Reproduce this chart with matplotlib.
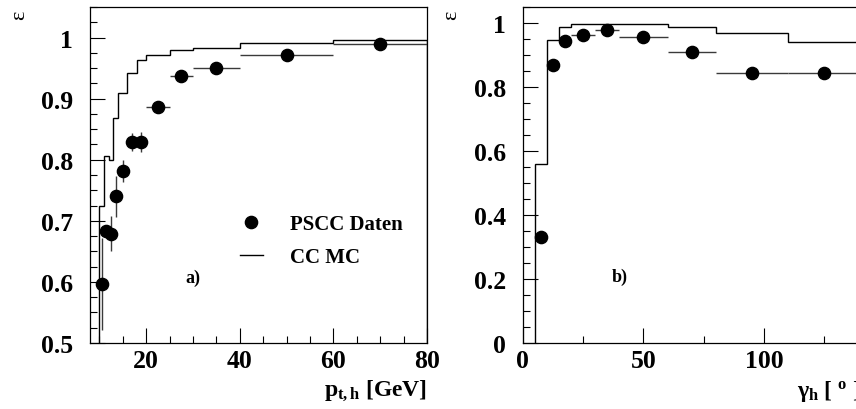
import numpy as np
import matplotlib
matplotlib.use("Agg")
import matplotlib.pyplot as plt
from matplotlib.ticker import MultipleLocator, FuncFormatter
from matplotlib.lines import Line2D

# ---------------- data: panel a (p_t,h) ----------------
pt_edges = [10, 11, 12, 13, 14, 16, 18, 20, 25, 30, 40, 60, 80]
pt_data_eff = [0.597, 0.683, 0.679, 0.740, 0.781, 0.829, 0.829, 0.886, 0.937, 0.950, 0.972, 0.989]
pt_data_err = [0.075, 0.010, 0.029, 0.033, 0.018, 0.015, 0.017, 0.006, 0.005, 0.004, 0.004, 0.003]
pt_mc_eff = [0.724, 0.806, 0.799, 0.869, 0.909, 0.942, 0.964, 0.971, 0.979, 0.983, 0.991, 0.996]

# ---------------- data: panel b (gamma_h) ----------------
gam_edges = [5, 10, 15, 20, 30, 40, 60, 80, 110, 140]
gam_data_eff = [0.332, 0.868, 0.945, 0.964, 0.977, 0.957, 0.910, 0.843, 0.843]
gam_data_err = [0.010, 0.008, 0.005, 0.004, 0.003, 0.004, 0.005, 0.006, 0.006]
gam_mc_eff = [0.559, 0.948, 0.987, 0.996, 0.998, 0.998, 0.987, 0.970, 0.942]

legend_labels = ["PSCC Daten", "CC MC"]
panel_tags = ["a)", "b)"]

plt.rcParams["font.family"] = ["Liberation Serif", "DejaVu Serif"]
plt.rcParams["font.weight"] = "bold"
plt.rcParams["axes.labelweight"] = "bold"
plt.rcParams["mathtext.fontset"] = "custom"
plt.rcParams["mathtext.rm"] = "Liberation Serif:bold"
plt.rcParams["mathtext.bf"] = "Liberation Serif:bold"
plt.rcParams["mathtext.it"] = "Liberation Serif:italic:bold"

fig = plt.figure(figsize=(8.56, 4.10), dpi=100)
H = 410.0
W = 856.0
ax_a = fig.add_axes([90 / W, (H - 344) / H, 337 / W, 336 / H])
ax_b = fig.add_axes([522.7 / W, (H - 344) / H, 338 / W, 336 / H])

fmt = FuncFormatter(lambda v, p: "%g" % round(v, 3))


def draw(ax, edges, data, err, mc, xlim, ylim, xmaj, xmin, ymaj, ymin):
    edges = np.asarray(edges, float)
    centers = 0.5 * (edges[:-1] + edges[1:])
    halfw = 0.5 * (edges[1:] - edges[:-1])
    ax.stairs(mc, edges, baseline=0, color="black", lw=1.0, zorder=2)
    ax.errorbar(centers, data, yerr=err, xerr=halfw, fmt="o", color="black",
                ms=8.8, ecolor="#3a3a3a", elinewidth=1.0, capsize=0, zorder=3)
    ax.set_xlim(*xlim)
    ax.set_ylim(*ylim)
    ax.xaxis.set_major_locator(MultipleLocator(xmaj))
    ax.xaxis.set_minor_locator(MultipleLocator(xmin))
    ax.yaxis.set_major_locator(MultipleLocator(ymaj))
    ax.yaxis.set_minor_locator(MultipleLocator(ymin))
    ax.xaxis.set_major_formatter(fmt)
    ax.yaxis.set_major_formatter(fmt)
    ax.tick_params(which="both", direction="in", top=False, right=False, width=0.8)
    ax.tick_params(which="major", length=10.5)
    ax.tick_params(which="minor", length=5)
    ax.tick_params(axis="y", which="major", pad=12, labelsize=18.5)
    ax.tick_params(axis="x", which="major", pad=4.0, labelsize=18.5)
    for lab in ax.get_xticklabels() + ax.get_yticklabels():
        lab.set_fontweight("bold")
    for s in ax.spines.values():
        s.set_linewidth(0.9)


draw(ax_a, pt_edges, pt_data_eff, pt_data_err, pt_mc_eff,
     (8, 80), (0.5, 1.05), 20, 5, 0.1, 0.025)
draw(ax_b, gam_edges, gam_data_eff, gam_data_err, gam_mc_eff,
     (0, 140), (0, 1.05), 50, 25, 0.2, 0.05)

# axis titles
ax_a.set_xlabel(r"$\mathrm{p}_{\mathrm{t,h}}$ [GeV]", fontsize=17, loc="right",
                fontweight="bold")
ax_a.xaxis.set_label_coords(1.0, -0.105)
ax_b.set_xlabel(r"γ$_{\mathrm{h}}$ [ $^{\mathrm{o}}$ ]", fontsize=17, loc="right",
                fontweight="bold")
ax_b.xaxis.set_label_coords(1.0, -0.105)

for ax in (ax_a, ax_b):
    ax.set_ylabel("ε", fontsize=16, fontweight="normal", rotation=90)
    ax.yaxis.set_label_coords(-0.182, 0.979)

# panel tags
ax_a.text(0.306, 0.196, panel_tags[0], transform=ax_a.transAxes, fontsize=13,
          fontweight="bold", ha="center", va="center")
ax_b.text(0.288, 0.199, panel_tags[1], transform=ax_b.transAxes, fontsize=13,
          fontweight="bold", ha="center", va="center")

# legend
h_data = Line2D([], [], marker="o", ls="none", color="black", ms=8.8)
h_mc = Line2D([], [], color="black", lw=1.0)
ax_a.legend([h_data, h_mc], legend_labels, loc="upper left",
            bbox_to_anchor=(0.445, 0.383), frameon=False, fontsize=15,
            handlelength=1.1, handletextpad=1.3, borderpad=0, borderaxespad=0,
            labelspacing=0.62)

fig.savefig("out.png", dpi=100)
